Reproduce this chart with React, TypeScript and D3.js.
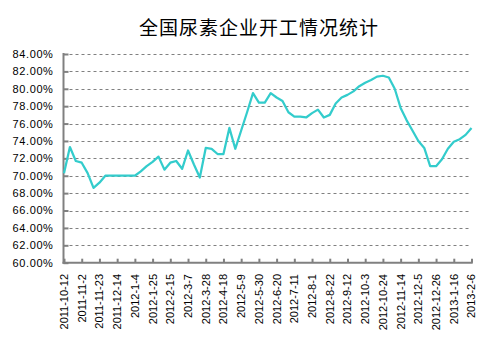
import React, { useRef, useEffect } from "react";
import * as d3 from "d3";

// weekly categories, 2011-10-12 .. 2013-2-6
const startDate = new Date(Date.UTC(2011, 9, 12));
const endDate = new Date(Date.UTC(2013, 1, 7));
const fmt = d3.utcFormat("%Y-%-m-%-d");
const dates = d3.utcDay.range(startDate, endDate, 7).map((d) => fmt(d));

// 开工率 (%)
const rates = [
  70.3, 73.3, 71.7, 71.5, 70.3, 68.6, 69.2, 70.0, 70.0, 70.0,
  70.0, 70.0, 70.0, 70.5, 71.1, 71.6, 72.2, 70.7, 71.5, 71.7,
  70.8, 72.9, 71.3, 69.8, 73.2, 73.1, 72.5, 72.5, 75.5, 73.1,
  75.2, 77.3, 79.5, 78.4, 78.4, 79.5, 79.0, 78.6, 77.3, 76.8,
  76.8, 76.7, 77.2, 77.6, 76.7, 77.0, 78.3, 79.0, 79.3, 79.7,
  80.3, 80.7, 81.0, 81.4, 81.5, 81.3, 80.0, 77.8, 76.4, 75.2,
  74.0, 73.2, 71.1, 71.1, 71.9, 73.1, 73.9, 74.2, 74.7, 75.5,
];

const tickLabels = [
  "2011-10-12", "2011-11-2", "2011-11-23", "2011-12-14", "2012-1-4",
  "2012-1-25", "2012-2-15", "2012-3-7", "2012-3-28", "2012-4-18",
  "2012-5-9", "2012-5-30", "2012-6-20", "2012-7-11", "2012-8-1",
  "2012-8-22", "2012-9-12", "2012-10-3", "2012-10-24", "2012-11-14",
  "2012-12-5", "2012-12-26", "2013-1-16", "2013-2-6",
];

const yTicks = [60, 62, 64, 66, 68, 70, 72, 74, 76, 78, 80, 82, 84];

const W = 503;
const H = 351;
const left = 63.5;
const right = 471.5;
const top = 54;
const bottom = 262.7;
const axisColor = "#808080";
const labelFont = "'Liberation Sans', Arial, sans-serif";

export default function App() {
  const svgRef = useRef<SVGSVGElement>(null);

  useEffect(() => {
    const svg = d3.select(svgRef.current);
    svg.selectAll("*").remove();

    const x = d3.scalePoint<string>().domain(dates).range([left + 0.5, right]);
    const y = d3.scaleLinear().domain([60, 84]).range([bottom, top]);

    // title
    svg
      .append("text")
      .attr("x", 259)
      .attr("y", 35)
      .attr("text-anchor", "middle")
      .style("font-family", "'Noto Sans CJK SC', sans-serif")
      .style("font-size", "19px")
      .style("letter-spacing", "1px")
      .attr("fill", "#000")
      .text("全国尿素企业开工情况统计");

    // dashed grid
    svg
      .append("g")
      .selectAll("line")
      .data(yTicks.filter((t) => t > 60))
      .join("line")
      .attr("x1", left)
      .attr("x2", 469)
      .attr("y1", (d) => Math.round(y(d)) + 0.5)
      .attr("y2", (d) => Math.round(y(d)) + 0.5)
      .attr("stroke", axisColor)
      .attr("stroke-width", 1)
      .attr("stroke-dasharray", "3,3");

    // y axis
    const yAxis = d3
      .axisRight(y)
      .tickValues(yTicks)
      .tickSize(5)
      .tickFormat(() => "");
    const gy = svg.append("g").attr("transform", `translate(${left},0)`).call(yAxis);
    gy.select(".domain").remove();
    gy.selectAll(".tick line").attr("stroke", axisColor).attr("stroke-width", 2);

    svg
      .append("g")
      .selectAll("text")
      .data(yTicks)
      .join("text")
      .attr("x", 53.5)
      .attr("y", (d) => y(d))
      .attr("dy", "0.36em")
      .attr("text-anchor", "end")
      .style("font-family", labelFont)
      .style("font-size", "11px")
      .style("letter-spacing", "0.6px")
      .attr("fill", "#000")
      .text((d) => d3.format(".2f")(d) + "%");

    // x axis
    const xAxis = d3
      .axisTop(x)
      .tickValues(tickLabels)
      .tickSize(4)
      .tickSizeOuter(0)
      .tickFormat(() => "");
    const gx = svg.append("g").attr("transform", `translate(0,${bottom})`).call(xAxis);
    gx.select(".domain").remove();
    gx.selectAll(".tick line").attr("stroke", axisColor).attr("stroke-width", 2);

    svg
      .append("g")
      .selectAll("text")
      .data(tickLabels)
      .join("text")
      .attr("transform", (d) => `translate(${x(d)},274) rotate(-90)`)
      .attr("dy", "0.36em")
      .attr("text-anchor", "end")
      .style("font-family", labelFont)
      .style("font-size", "11px")
      .attr("fill", "#000")
      .text((d) => d);

    // axis lines
    svg
      .append("line")
      .attr("x1", left)
      .attr("x2", left)
      .attr("y1", top - 1)
      .attr("y2", bottom + 1)
      .attr("stroke", axisColor)
      .attr("stroke-width", 2);
    svg
      .append("line")
      .attr("x1", left - 1)
      .attr("x2", 472.7)
      .attr("y1", bottom)
      .attr("y2", bottom)
      .attr("stroke", axisColor)
      .attr("stroke-width", 2);

    // series
    const line = d3
      .line<number>()
      .x((_, i) => x(dates[i]) as number)
      .y((d) => y(d));
    svg
      .append("path")
      .datum(rates)
      .attr("d", line)
      .attr("fill", "none")
      .attr("stroke", "#33CCCC")
      .attr("stroke-width", 2.25)
      .attr("stroke-linejoin", "round");
  }, []);

  return (
    <div style={{ position: "absolute", left: 0, top: 0, width: W, height: H, background: "#fff" }}>
      <svg ref={svgRef} width={W} height={H} style={{ display: "block" }} />
    </div>
  );
}
